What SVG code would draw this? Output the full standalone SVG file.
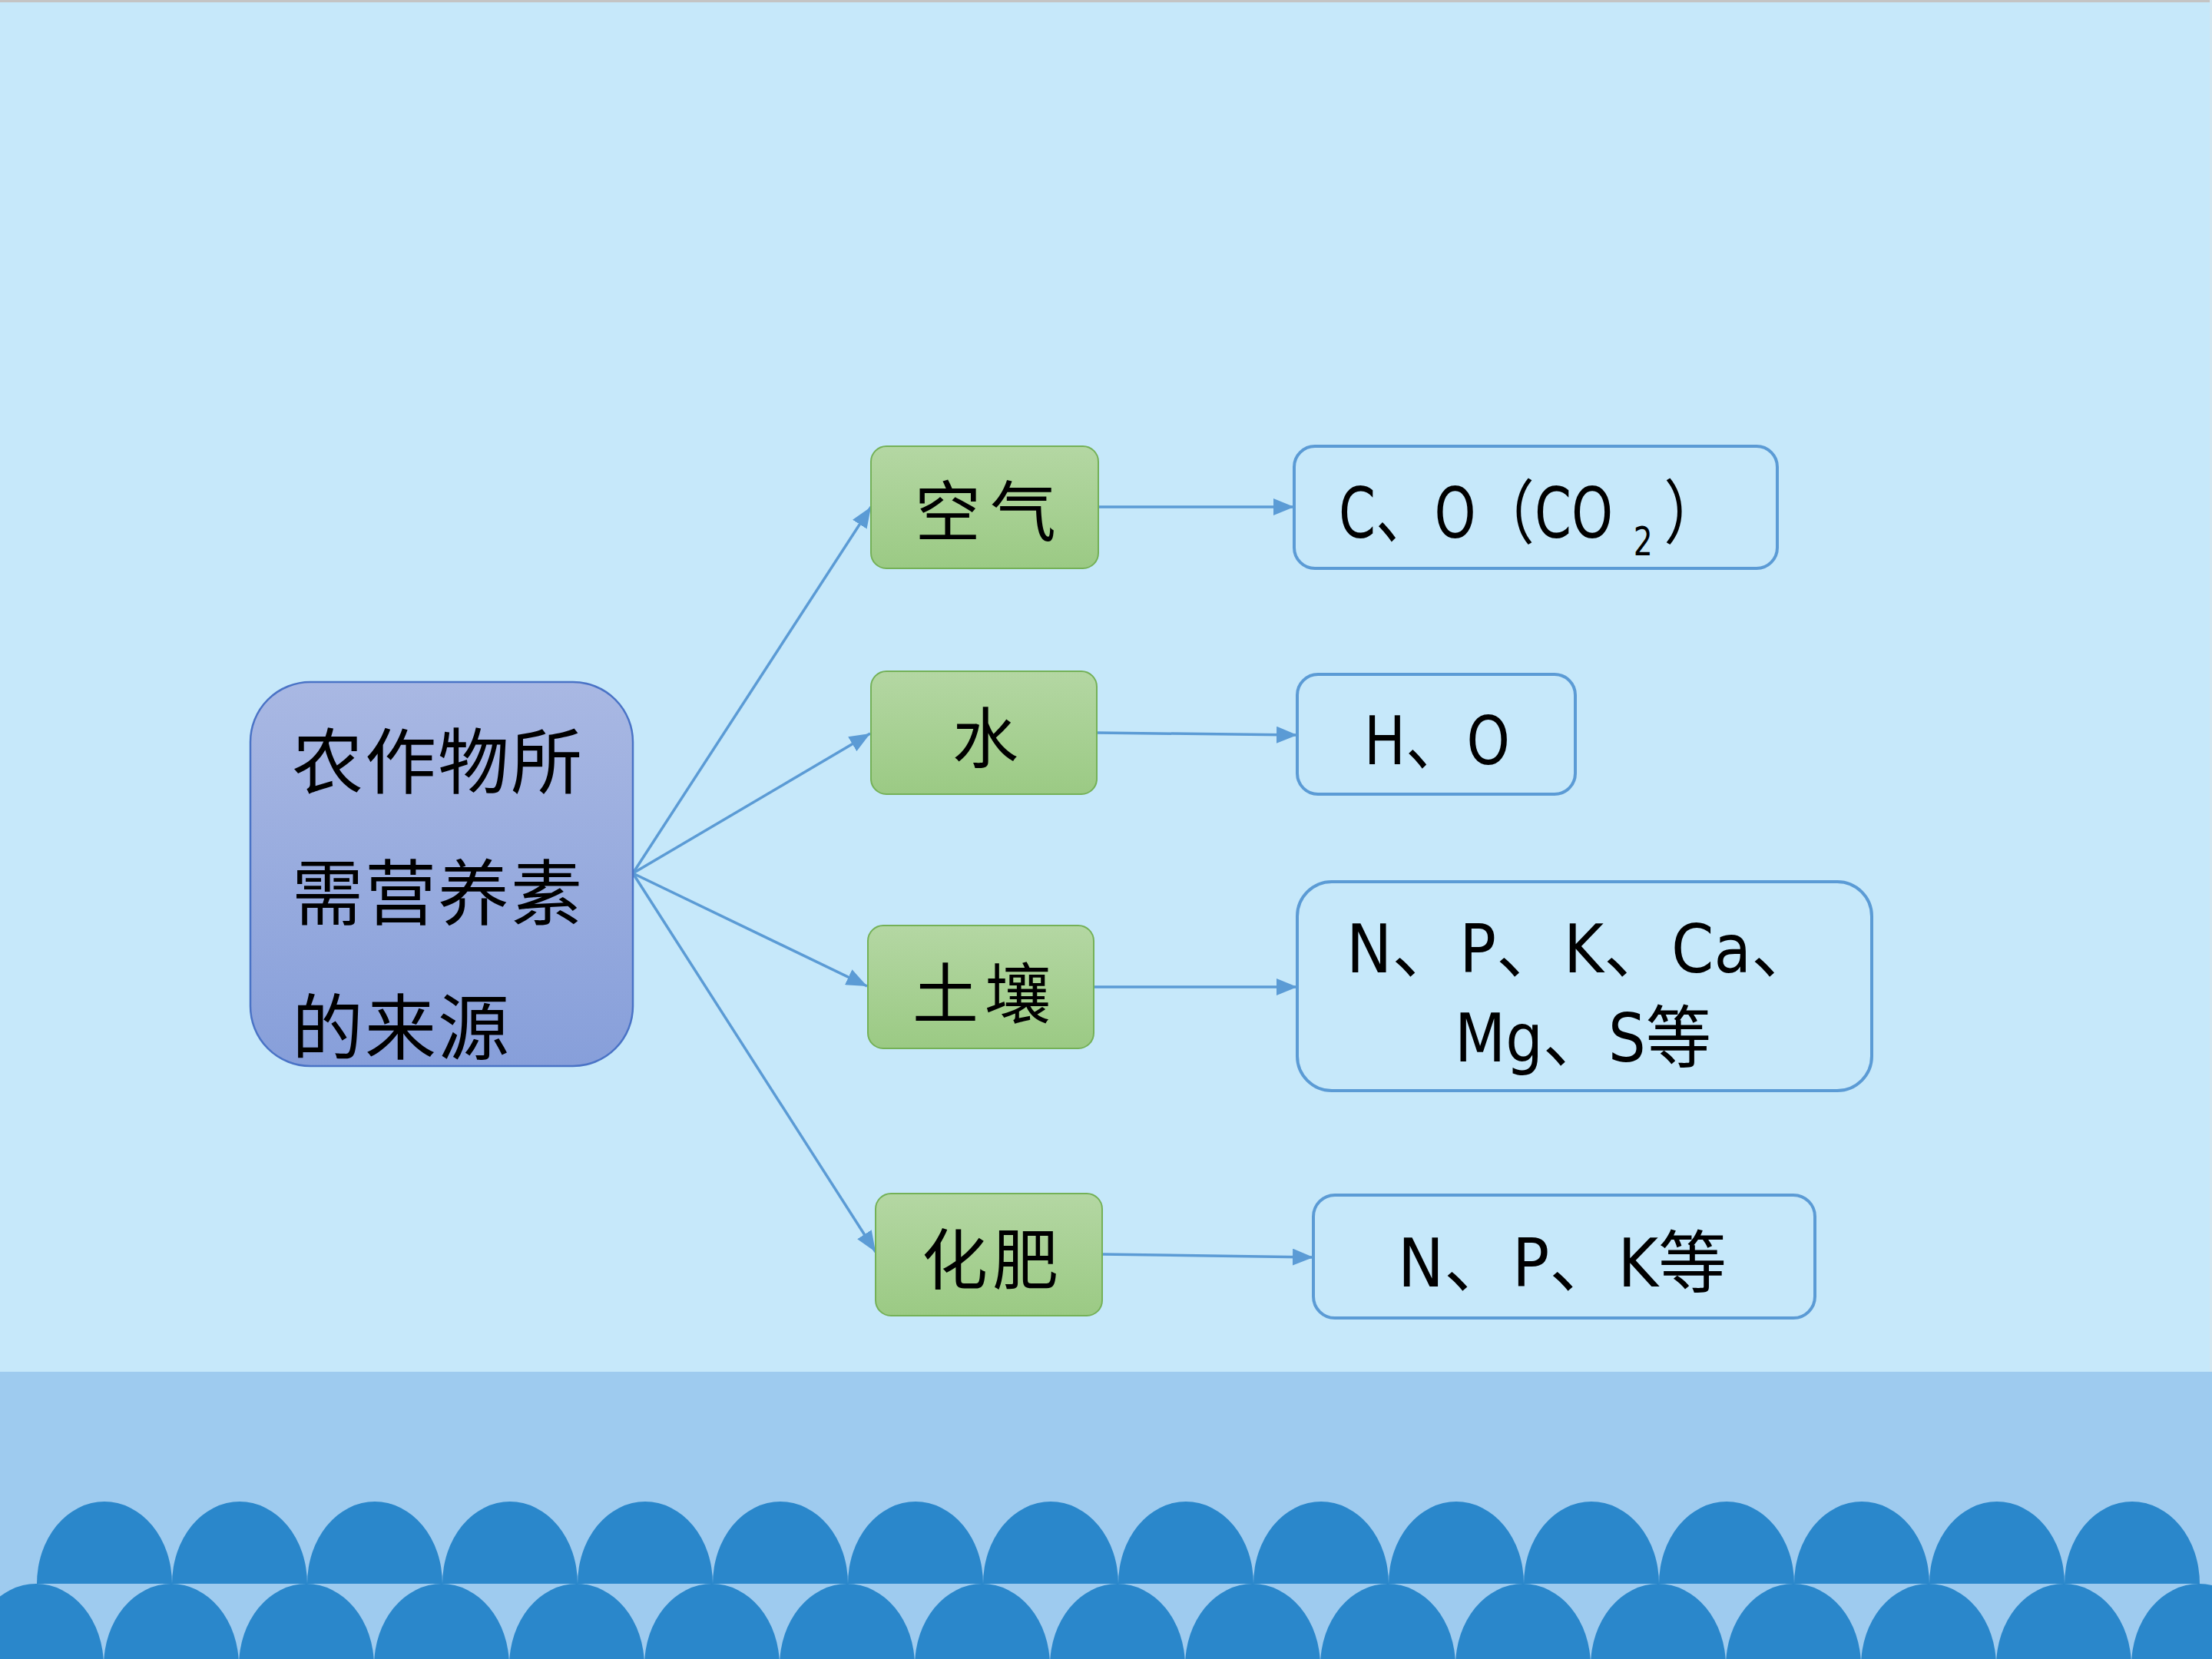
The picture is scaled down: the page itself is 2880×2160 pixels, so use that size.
<svg xmlns="http://www.w3.org/2000/svg" width="2880" height="2160" viewBox="0 0 2880 2160">
<defs>
<linearGradient id="gMain" x1="0" y1="0" x2="0" y2="1">
<stop offset="0" stop-color="#A9B8E3"/>
<stop offset="1" stop-color="#879FDA"/>
</linearGradient>
<linearGradient id="gGreen" x1="0" y1="0" x2="0" y2="1">
<stop offset="0" stop-color="#B4D7A3"/>
<stop offset="1" stop-color="#9BCA84"/>
</linearGradient>
<marker id="arr" markerUnits="userSpaceOnUse" markerWidth="28" markerHeight="22" refX="27" refY="11" orient="auto">
<path d="M0,0 L27,11 L0,22 z" fill="#5B9BD5"/>
</marker>
<path id="bump" d="M-88,0 A88,107 0 0 1 88,0 Z" fill="#2A87CB"/>
</defs>
<style>
.main{fill:url(#gMain);stroke:#4A73C6;stroke-width:2.5}
.green{fill:url(#gGreen);stroke:#74B157;stroke-width:2}
.res{fill:#C6E8FA;stroke:#5B9BD5;stroke-width:4}
.cjk{font-family:"Noto Sans CJK SC",sans-serif;fill:#000}
.lat{font-family:"Liberation Sans Narrow","DejaVu Sans Condensed","Liberation Sans","Noto Sans CJK SC",sans-serif;fill:#000}
.conn line{stroke:#5B9BD5;stroke-width:3.5;marker-end:url(#arr)}
</style>
<rect x="0" y="0" width="2880" height="2160" fill="#C6E8FA"/>
<rect x="0" y="0" width="2880" height="3" fill="#C4C4C4"/>
<rect x="2877" y="0" width="3" height="1786" fill="#D2E6F0"/>
<rect x="0" y="1786" width="2880" height="374" fill="#9ECBEF"/>
<g id="waves">
<use href="#bump" x="136" y="2062"/><use href="#bump" x="312" y="2062"/><use href="#bump" x="488" y="2062"/><use href="#bump" x="664" y="2062"/>
<use href="#bump" x="840" y="2062"/><use href="#bump" x="1016" y="2062"/><use href="#bump" x="1192" y="2062"/><use href="#bump" x="1368" y="2062"/>
<use href="#bump" x="1544" y="2062"/><use href="#bump" x="1720" y="2062"/><use href="#bump" x="1896" y="2062"/><use href="#bump" x="2072" y="2062"/>
<use href="#bump" x="2248" y="2062"/><use href="#bump" x="2424" y="2062"/><use href="#bump" x="2600" y="2062"/><use href="#bump" x="2776" y="2062"/>
<use href="#bump" x="47" y="2169"/><use href="#bump" x="223" y="2169"/><use href="#bump" x="399" y="2169"/><use href="#bump" x="575" y="2169"/>
<use href="#bump" x="751" y="2169"/><use href="#bump" x="927" y="2169"/><use href="#bump" x="1103" y="2169"/><use href="#bump" x="1279" y="2169"/>
<use href="#bump" x="1455" y="2169"/><use href="#bump" x="1631" y="2169"/><use href="#bump" x="1807" y="2169"/><use href="#bump" x="1983" y="2169"/>
<use href="#bump" x="2159" y="2169"/><use href="#bump" x="2335" y="2169"/><use href="#bump" x="2511" y="2169"/><use href="#bump" x="2687" y="2169"/>
<use href="#bump" x="2863" y="2169"/>
</g>
<g id="connectors" class="conn">
<line x1="824" y1="1137" x2="1134" y2="660"/>
<line x1="824" y1="1137" x2="1133" y2="955"/>
<line x1="824" y1="1137" x2="1129" y2="1284"/>
<line x1="824" y1="1137" x2="1140" y2="1630"/>
<line x1="1430" y1="660" x2="1685" y2="660"/>
<line x1="1428" y1="954" x2="1689" y2="957"/>
<line x1="1424" y1="1285" x2="1689" y2="1285"/>
<line x1="1435" y1="1633" x2="1710" y2="1637"/>
</g>
<g id="node-main">
<rect class="main" x="326" y="888" width="498" height="500" rx="78" ry="78"/>
<text class="cjk" font-size="93" x="380" y="1026" letter-spacing="2">农作物所</text>
<text class="cjk" font-size="93" x="380" y="1197" letter-spacing="2">需营养素</text>
<text class="cjk" font-size="93" x="380" y="1372" letter-spacing="2">的来源</text>
</g>
<g id="node-air">
<rect class="green" x="1134" y="581" width="296" height="159" rx="20" ry="20"/>
<text class="cjk" font-size="86" x="1289" y="698" text-anchor="middle" letter-spacing="12">空气</text>
</g>
<g id="node-water">
<rect class="green" x="1134" y="874" width="294" height="160" rx="20" ry="20"/>
<text class="cjk" font-size="86" x="1283" y="993" text-anchor="middle">水</text>
</g>
<g id="node-soil">
<rect class="green" x="1130" y="1205" width="294" height="160" rx="20" ry="20"/>
<text class="cjk" font-size="86" x="1282" y="1326" text-anchor="middle" letter-spacing="8">土壤</text>
</g>
<g id="node-fert">
<rect class="green" x="1140" y="1554" width="295" height="159" rx="20" ry="20"/>
<text class="cjk" font-size="86" x="1292" y="1672" text-anchor="middle" letter-spacing="6">化肥</text>
</g>
<g id="node-co2">
<rect class="res" x="1685" y="581" width="629" height="159" rx="27" ry="27"/>
<text class="lat" font-size="91" transform="translate(1743,700) scale(0.84,1)"><tspan x="0" y="0">C、O（CO</tspan><tspan x="457" y="23" font-size="52">2</tspan><tspan x="504" y="0">）</tspan></text>
</g>
<g id="node-ho">
<rect class="res" x="1689" y="878" width="362" height="156" rx="27" ry="27"/>
<text class="lat" font-size="88" x="1776" y="995" textLength="190" lengthAdjust="spacingAndGlyphs">H、O</text>
</g>
<g id="node-npk1">
<rect class="res" x="1689" y="1148" width="748" height="272" rx="45" ry="45"/>
<text class="lat" font-size="88" x="1753" y="1266" textLength="615" lengthAdjust="spacingAndGlyphs">N、P、K、Ca、</text>
<text class="lat" font-size="88" x="1894" y="1382" textLength="334" lengthAdjust="spacingAndGlyphs">Mg、S等</text>
</g>
<g id="node-npk2">
<rect class="res" x="1710" y="1556" width="653" height="160" rx="28" ry="28"/>
<text class="lat" font-size="88" x="1820" y="1675" textLength="428" lengthAdjust="spacingAndGlyphs">N、P、K等</text>
</g>
</svg>
